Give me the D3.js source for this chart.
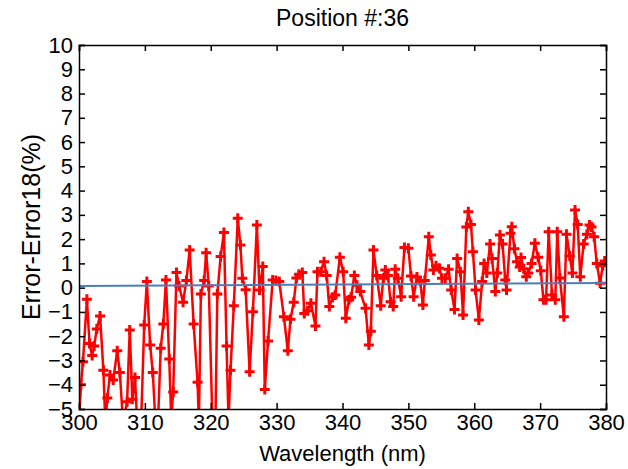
<!DOCTYPE html>
<html>
<head>
<meta charset="utf-8">
<script src="https://cdn.jsdelivr.net/npm/d3@7"></script>
<style>
  body { margin: 0; background: #fff; }
  text { font-family: "Liberation Sans", Arial, sans-serif; fill: #000; }
</style>
</head>
<body>
<svg id="chart" width="628" height="469"></svg>
<script>
// wavelength (nm) and error (%)
const wavelength = [
  300.0, 300.3, 300.6, 301.2, 301.6, 302.0, 302.3, 302.7, 303.2, 303.7,
  304.0, 304.3, 304.7, 305.2, 305.8, 306.2, 306.7, 307.3, 307.7, 308.1,
  308.5, 309.0, 309.4, 309.9, 310.3, 310.8, 311.2, 311.7, 312.0, 312.4,
  312.8, 313.2, 313.7, 314.0, 314.3, 314.8, 315.2, 315.8, 316.3, 316.8,
  317.4, 318.0, 318.2, 318.5, 319.0, 319.3, 319.7, 320.3, 320.7, 321.0,
  321.5, 322.0, 322.4, 322.7, 323.0, 323.5, 324.1, 324.5, 324.8, 325.3,
  325.9, 326.4, 327.0, 327.4, 327.9, 328.2, 328.7, 329.4, 329.9, 330.4,
  331.1, 331.7, 332.1, 332.6, 333.0, 333.4, 333.9, 334.2, 334.7, 335.2,
  335.9, 336.2, 336.7, 337.2, 337.6, 338.0, 338.5, 338.9, 339.6, 340.1,
  340.5, 341.0, 341.3, 341.8, 342.2, 342.7, 343.5, 344.0, 344.3, 344.7,
  345.2, 345.8, 346.2, 346.5, 346.9, 347.3, 347.7, 348.0, 348.4, 348.9,
  349.4, 350.0, 350.4, 350.8, 351.3, 351.8, 352.2, 352.5, 353.1, 353.4,
  353.8, 354.2, 354.7, 355.1, 355.6, 356.1, 356.5, 357.0, 357.4, 357.9,
  358.3, 358.8, 359.1, 359.5, 359.8, 360.2, 360.7, 361.2, 361.5, 361.9,
  362.4, 362.7, 363.2, 363.5, 363.9, 364.3, 364.7, 364.9, 365.5, 365.7,
  366.1, 366.5, 366.9, 367.1, 367.5, 367.9, 368.2, 368.7, 369.2, 369.7,
  370.1, 370.5, 370.9, 371.3, 371.8, 372.3, 372.6, 373.0, 373.6, 374.0,
  374.5, 374.9, 375.3, 375.7, 376.1, 376.6, 377.1, 377.5, 377.8, 378.2,
  378.6, 379.1, 379.5, 379.8
];
const errorPct = [
  -5.5, -4.0, -3.05, -0.48, -2.3, -2.8, -2.4, -1.7, -1.17, -3.4,
  -5.6, -4.55, -3.6, -3.8, -2.6, -3.5, -5.6, -4.7, -1.74, -4.6,
  -3.7, -6.5, -5.8, -1.54, 0.25, -2.36, -3.5, -6.0, -5.5, -2.5,
  -1.5, 0.32, -2.94, -5.4, -4.3, 0.62, 0.07, -0.6, 0.3, 1.55,
  -1.5, -3.9, -5.6, -0.26, 0.3, 1.44, 0.07, -6.0, -5.8, -0.26,
  1.28, 2.27, -2.4, -5.5, -3.4, -0.75, 2.86, 1.76, 0.39, -0.09,
  -3.46, -0.99, 2.58, -0.1, 0.87, -4.2, -2.2, 0.32, 0.3, 0.25,
  -1.2, -2.6, -1.3, -0.6, 0.4, 0.55, 0.62, -1.06, -0.95, -0.64,
  -1.58, 0.66, 0.66, 1.07, 0.5, -0.78, -0.4, -0.3, 1.25, 0.66,
  -1.26, -0.5, -0.4, 0.5, 0.1, -0.16, -0.85, -2.36, -1.8, 1.55,
  0.5, -0.75, 0.39, 0.73, 0.5, -0.58, -0.78, 0.76, 0.39, -0.37,
  1.66, 1.62, 0.48, -0.37, 0.44, 0.26, -0.71, 0.3, 2.1, 1.35,
  0.73, 0.9, 0.8, 0.39, 0.39, 0.76, -0.1, -0.9, 1.2, 0.66,
  -1.13, 2.5, 3.13, 2.6, 1.48, -0.1, -1.33, 0.25, 1.0, 0.6,
  1.8, 1.2, -0.16, 0.6, 2.17, 1.8, 0.32, -0.1, 2.24, 2.51,
  1.6, 1.07, 0.85, 1.24, 0.78, 0.45, 0.6, 1.0, 1.83, 1.25,
  0.7, -0.5, -0.5, 2.3, -0.3, -0.5, 2.3, 0.4, -1.2, 2.2,
  1.3, 0.6, 3.2, 2.6, 0.45, 1.8, 2.2, 2.58, 2.5, 2.1,
  1.0, 0.18, 0.9, 1.1
];
// straight fit line (blue)
const fitX = [300, 380];
const fitY = [0.07, 0.19];

const xTicks = [300, 310, 320, 330, 340, 350, 360, 370, 380];
const yTicks = [-5, -4, -3, -2, -1, 0, 1, 2, 3, 4, 5, 6, 7, 8, 9, 10];

const svg = d3.select("#chart");
const plotL = 79, plotR = 606, plotT = 45, plotB = 409;

const x = d3.scaleLinear().domain([300, 380]).range([plotL, plotR]);
const y = d3.scaleLinear().domain([-5, 10]).range([plotB, plotT]);

svg.append("defs").append("clipPath").attr("id", "plotClip")
  .append("rect")
  .attr("x", plotL).attr("y", plotT)
  .attr("width", plotR - plotL).attr("height", plotB - plotT);

const plot = svg.append("g").attr("clip-path", "url(#plotClip)");

const pts = wavelength.map((w, i) => [w, errorPct[i]]);

plot.append("path")
  .datum(pts)
  .attr("fill", "none")
  .attr("stroke", "#ff0000")
  .attr("stroke-width", 2.5)
  .attr("stroke-linejoin", "round")
  .attr("d", d3.line().x(d => x(d[0])).y(d => y(d[1])));

plot.selectAll(".mark")
  .data(pts)
  .enter()
  .append("path")
  .attr("class", "mark")
  .attr("transform", d => `translate(${x(d[0])},${y(d[1])})`)
  .attr("d", "M-5,0H5M0,-5V5")
  .attr("stroke", "#ff0000")
  .attr("stroke-width", 3);

plot.append("path")
  .datum(fitX.map((v, i) => [v, fitY[i]]))
  .attr("fill", "none")
  .attr("stroke", "#4a7ebb")
  .attr("stroke-width", 2)
  .attr("d", d3.line().x(d => x(d[0])).y(d => y(d[1])));

// axes: ticks pointing inward on all four sides
const fontSize = "22px";
const gB = svg.append("g").attr("transform", `translate(0,${plotB})`)
  .call(d3.axisBottom(x).tickValues(xTicks).tickSize(-6).tickPadding(5));
const gT = svg.append("g").attr("transform", `translate(0,${plotT})`)
  .call(d3.axisTop(x).tickValues(xTicks).tickSize(-6).tickFormat(""));
const gL = svg.append("g").attr("transform", `translate(${plotL},0)`)
  .call(d3.axisLeft(y).tickValues(yTicks).tickSize(-6).tickPadding(6));
const gR = svg.append("g").attr("transform", `translate(${plotR},0)`)
  .call(d3.axisRight(y).tickValues(yTicks).tickSize(-6).tickFormat(""));

[gB, gT, gL, gR].forEach(g => {
  g.select(".domain").attr("stroke", "#000").attr("stroke-width", 1.5);
  g.selectAll(".tick line").attr("stroke", "#000").attr("stroke-width", 1.5);
  g.selectAll("text")
    .attr("font-family", "Liberation Sans, Arial, sans-serif")
    .attr("font-size", fontSize)
    .attr("fill", "#000");
});

svg.append("text")
  .attr("x", (plotL + plotR) / 2).attr("y", 26)
  .attr("text-anchor", "middle")
  .attr("font-size", "23px")
  .text("Position #:36");

svg.append("text")
  .attr("x", (plotL + plotR) / 2).attr("y", 461)
  .attr("text-anchor", "middle")
  .attr("font-size", fontSize)
  .text("Wavelength (nm)");

svg.append("text")
  .attr("transform", `translate(40,${(plotT + plotB) / 2}) rotate(-90)`)
  .attr("text-anchor", "middle")
  .attr("font-size", "25px")
  .text("Error-Error18(%)");
</script>
</body>
</html>
